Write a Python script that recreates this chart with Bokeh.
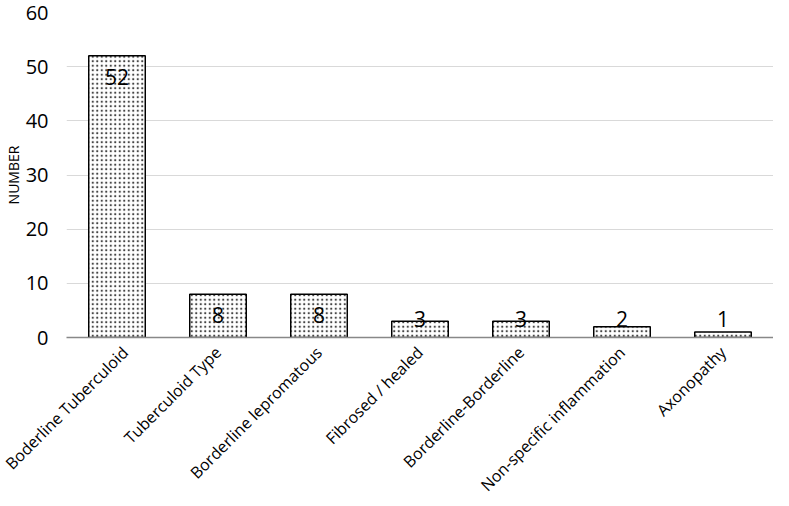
import numpy as np
from bokeh.plotting import figure
from bokeh.models import ColumnDataSource, LabelSet
from bokeh.core.properties import value
from bokeh.embed import file_html
from bokeh.resources import INLINE

categories = ["Boderline Tuberculoid", "Tuberculoid Type", "Borderline lepromatous",
              "Fibrosed / healed", "Borderline-Borderline", "Non-specific inflammation",
              "Axonopathy"]
values = [52, 8, 8, 3, 3, 2, 1]
y_ticks = [0, 10, 20, 30, 40, 50, 60]

FONT = "Open Sans"

p = figure(x_range=categories, y_range=(0, 60), width=773, height=506,
           output_backend="svg", toolbar_location=None,
           min_border_left=62, min_border_right=0, min_border_top=12,
           min_border_bottom=150)

vals = np.array(values, dtype=float)
label_y = np.maximum(vals - 2.45, 4.9)
src = ColumnDataSource(dict(cat=categories, val=values,
                            txt=[str(v) for v in values], ly=label_y))

p.vbar(x="cat", top="val", width=0.56, source=src,
       fill_color="white", line_color="black", line_width=1.5,
       hatch_pattern="dot", hatch_color="#444444", hatch_scale=4.5, hatch_weight=1.2)

labels = LabelSet(x="cat", y="ly", text="txt", source=src,
                  text_align="center", text_baseline="top",
                  text_font=value(FONT), text_font_size="21px", text_color="black")
p.add_layout(labels)

p.outline_line_color = None
p.xgrid.grid_line_color = None
p.ygrid.grid_line_color = "#d9d9d9"
p.ygrid.grid_line_width = 1.2
p.ygrid.ticker = y_ticks

p.yaxis.ticker = y_ticks
p.yaxis.axis_line_color = None
p.yaxis.major_tick_line_color = None
p.yaxis.minor_tick_line_color = None
p.yaxis.major_tick_out = 0
p.yaxis.major_label_text_font = FONT
p.yaxis.major_label_text_font_size = "20px"
p.yaxis.major_label_text_color = "black"
p.yaxis.major_label_standoff = 18
p.yaxis.axis_label = "NUMBER"
p.yaxis.axis_label_text_font = FONT
p.yaxis.axis_label_text_font_size = "14px"
p.yaxis.axis_label_text_font_style = "normal"
p.yaxis.axis_label_text_color = "black"
p.yaxis.axis_label_standoff = 0

p.xaxis.axis_line_color = "#888888"
p.xaxis.axis_line_width = 1.5
p.xaxis.major_tick_line_color = None
p.xaxis.minor_tick_line_color = None
p.xaxis.major_tick_out = 0
p.xaxis.major_label_orientation = np.pi / 4
p.xaxis.major_label_text_font = FONT
p.xaxis.major_label_text_font_size = "16px"
p.xaxis.major_label_text_color = "black"
p.xaxis.major_label_standoff = 12

open("out.html", "w").write(file_html(p, INLINE))
